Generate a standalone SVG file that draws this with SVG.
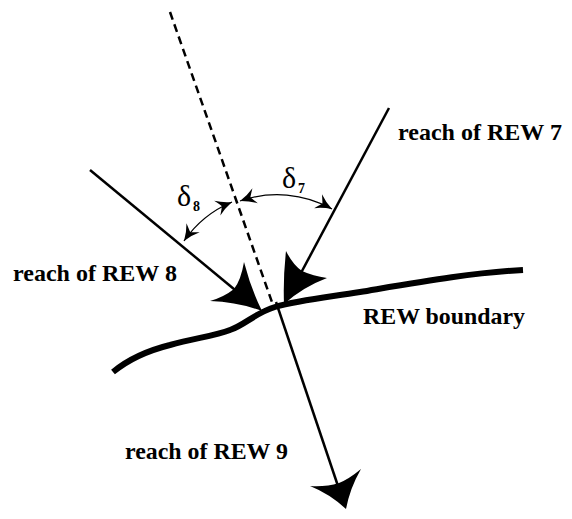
<svg xmlns="http://www.w3.org/2000/svg" width="572" height="519" viewBox="0 0 572 519">
<style>
.lbl{font-family:"Liberation Serif","Times New Roman",serif;font-weight:bold;font-size:23px;fill:#000}
.dl{font-family:"Liberation Serif","Times New Roman",serif;font-size:30px;fill:#000}
.sub{font-family:"Liberation Serif","Times New Roman",serif;font-weight:bold;font-size:14px;fill:#000}
.thin{fill:none;stroke:#000;stroke-width:2.5}
.arc{fill:none;stroke:#000;stroke-width:1.3}
.head{fill:#000;stroke:none}
</style>
<defs>
<marker id="sm" markerUnits="userSpaceOnUse" markerWidth="22" markerHeight="22" refX="0" refY="0" viewBox="-17 -11 22 22" orient="auto-start-reverse">
<path d="M0,0 Q-9,-3 -16,-8 Q-12,-2 -11,0 Q-12,2 -16,8 Q-9,3 0,0 Z" fill="#000"/>
</marker>
</defs>
<rect width="572" height="519" fill="#fff"/>
<g id="boundary">
<path d="M113,372 C130,358 150,350 170,345 C195,338 215,336 230,330 C245,325 255,313 275,307 C300,300 330,297 360,292 C420,282 470,273 523,270" fill="none" stroke="#000" stroke-width="6"/>
</g>
<g id="connectors">
<line x1="170" y1="12" x2="273" y2="305" stroke="#000" stroke-width="2.5" stroke-dasharray="8,5"/>
<g id="rew7">
<line class="thin" x1="389" y1="108" x2="294" y2="286"/>
<path class="head" d="M284,304 Q283,278 286,251 Q293,265 302,271 Q313,276 327,278 Q303,287 284,304 Z"/>
</g>
<g id="rew8">
<line class="thin" x1="90" y1="170" x2="246" y2="299"/>
<path class="head" d="M262,311 Q251,289 244,262 Q241,280 234,289 Q224,297 210,301 Q238,302 262,311 Z"/>
</g>
<g id="rew9">
<line class="thin" x1="276" y1="302" x2="340" y2="492"/>
<path class="head" d="M346,509 Q350,488 361,469 Q349,479 339,483 Q326,487 310,486 Q330,494 346,509 Z"/>
</g>
<path class="arc" d="M232,202 A110,110 0 0 0 184,241" marker-start="url(#sm)" marker-end="url(#sm)"/>
<path class="arc" d="M240,201 A112,112 0 0 1 332,209" marker-start="url(#sm)" marker-end="url(#sm)"/>
</g>
<g id="labels">
<text class="dl" x="177" y="206">δ</text><text class="sub" x="193" y="211">8</text>
<text class="dl" x="282" y="188">δ</text><text class="sub" x="298" y="193">7</text>
<text class="lbl" x="398" y="140" textLength="164" lengthAdjust="spacingAndGlyphs">reach of REW 7</text>
<text class="lbl" x="13" y="281" textLength="164" lengthAdjust="spacingAndGlyphs">reach of REW 8</text>
<text class="lbl" x="363" y="324" textLength="162" lengthAdjust="spacingAndGlyphs">REW boundary</text>
<text class="lbl" x="125" y="459" textLength="163" lengthAdjust="spacingAndGlyphs">reach of REW 9</text>
</g>
</svg>
